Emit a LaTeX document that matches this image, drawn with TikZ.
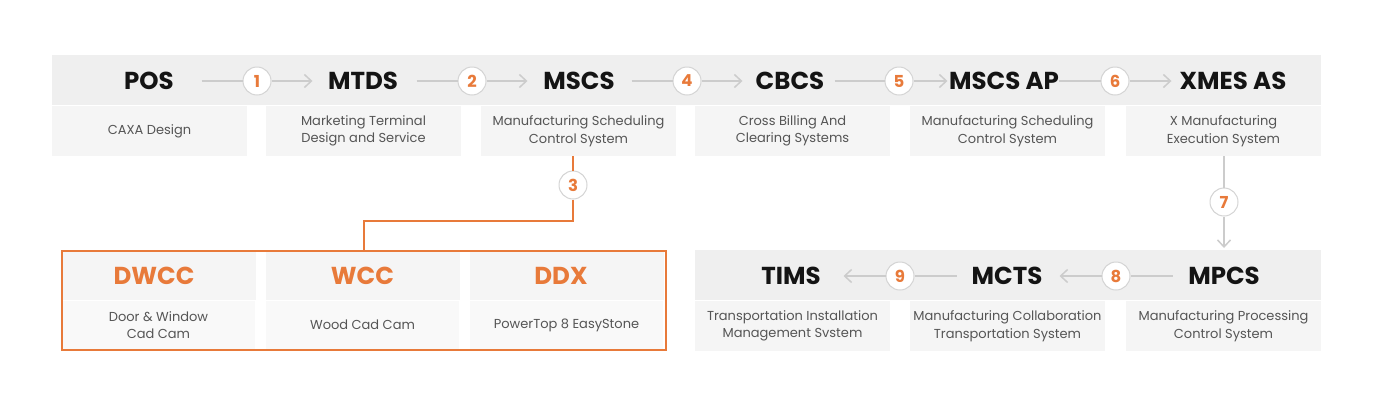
\documentclass[tikz,border=0pt]{standalone}
\usepackage{fontspec}
\setmainfont{Poppins}
\usetikzlibrary{arrows.meta, positioning, calc}
\definecolor{bandgray}{RGB}{239,239,239}
\definecolor{cellgray}{RGB}{245,245,245}
\definecolor{linegray}{RGB}{204,204,204}
\definecolor{textgray}{RGB}{85,85,85}
\definecolor{accentorange}{RGB}{232,122,58}

\begin{document}
\begin{tikzpicture}[x=1pt, y=-1pt,
        band/.style={fill=bandgray, inner sep=0pt, anchor=north west},
        title/.style={font=\bfseries\fontsize{24.5}{28}\selectfont, text=black!92},
        desc/.style={fill=cellgray, minimum width=195pt, minimum height=50pt, inner sep=0pt, align=center, text=textgray, font=\fontsize{13}{17.5}\selectfont},
        num/.style={circle, draw=linegray!85, fill=white, line width=1pt, minimum size=28pt, inner sep=0pt, text=accentorange, font=\bfseries\fontsize{16.5}{16.5}\selectfont},
        link/.style={linegray, line width=1.5pt},
        tip/.style={-{Straight Barb[length=7pt, width=13pt]}}]
        \useasboundingbox (0,0) rectangle (1380,410);

        % Top row
        \node[band, minimum width=1269pt, minimum height=50pt] (upper) at (52,55) {};
        \node[title] (pos) at (149,81) {POS};
        \node[title] (mtds) at (363,81) {MTDS};
        \node[title] (mscs) at (579,81) {MSCS};
        \node[title] (cbcs) at (790,81) {CBCS};
        \node[title] (mscsap) at (1004,81) {MSCS AP};
        \node[title] (xmes) at (1233,81) {XMES AS};
        \node[desc] (pos-d) at (149.5,131) {CAXA Design};
        \node[desc] (mtds-d) at (363.5,131) {Marketing Terminal\\Design and Service};
        \node[desc] (mscs-d) at (578.5,131) {Manufacturing Scheduling\\Control System};
        \node[desc] (cbcs-d) at (792.5,131) {Cross Billing And\\Clearing Systems};
        \node[desc] (mscsap-d) at (1007.5,131) {Manufacturing Scheduling\\Control System};
        \node[desc] (xmes-d) at (1223.5,131) {X Manufacturing\\Execution System};

        % Bottom right row
        \node[band, minimum width=626pt, minimum height=50pt] (lower) at (695,250) {};
        \node[title] (tims) at (791,276) {TIMS};
        \node[title] (mcts) at (1007,276) {MCTS};
        \node[title] (mpcs) at (1224,276) {MPCS};
        \node[desc] (tims-d) at (792.5,326) {Transportation Installation\\Management Svstem};
        \node[desc] (mcts-d) at (1007.5,326) {Manufacturing Collaboration\\Transportation System};
        \node[desc] (mpcs-d) at (1223.5,326) {Manufacturing Processing\\Control System};

        % Bottom left group
        \foreach \x in {62,266,470}
            \fill[cellgray] (\x,251) rectangle ++(193.5,49);
        \node[title, text=accentorange] (dwcc) at (154,275.5) {DWCC};
        \node[title, text=accentorange] (wcc) at (362.5,275.5) {WCC};
        \node[title, text=accentorange] (ddx) at (561,275.5) {DDX};
        \node[desc, fill=cellgray!60, minimum width=193.5pt, minimum height=48pt] (dwcc-d) at (158.5,325) {Door \& Window\\Cad Cam};
        \node[desc, fill=cellgray!60, minimum width=193.5pt, minimum height=48pt] (wcc-d) at (362.5,325) {Wood Cad Cam};
        \node[desc, fill=cellgray!60, minimum width=193.5pt, minimum height=48pt] (ddx-d) at (566.5,325) {PowerTop 8 EasyStone};
        \node[draw=accentorange, line width=1.5pt, minimum width=604pt, minimum height=99pt, inner sep=0pt, anchor=north west] (tools) at (61,250) {};

        % Steps
        \node[num] (n1) at (257,81) {1};
        \node[num] (n2) at (472,81) {2};
        \node[num] (n3) at (573,185) {3};
        \node[num] (n4) at (687,81) {4};
        \node[num] (n5) at (899,81) {5};
        \node[num] (n6) at (1115,81) {6};
        \node[num] (n7) at (1224,202) {7};
        \node[num] (n8) at (1116,276) {8};
        \node[num] (n9) at (900,276) {9};

        % Connectors
        \foreach \n/\l/\r in {n1/41/41, n2/41/41, n4/41/41, n5/50/34, n6/42/42} {
            \draw[link] ([xshift=-\l pt]\n.west) -- (\n.west);
            \draw[link, tip] (\n.east) -- ([xshift=\r pt]\n.east);
        }
        \foreach \n in {n8, n9} {
            \draw[link] ([xshift=42pt]\n.east) -- (\n.east);
            \draw[link, tip] (\n.west) -- ([xshift=-42pt]\n.west);
        }
        \draw[link] (n7 |- xmes-d.south) -- (n7.north);
        \draw[link, tip] (n7.south) -- ([yshift=2pt]n7 |- lower.north);
        \draw[accentorange, line width=1.5pt] (n3 |- mscs-d.south) -- (n3.north);
        \draw[accentorange, line width=1.5pt] (n3.south) |- ($(tools.north)+(0,-29)$) -- (tools.north);
    \end{tikzpicture}
\end{document}
